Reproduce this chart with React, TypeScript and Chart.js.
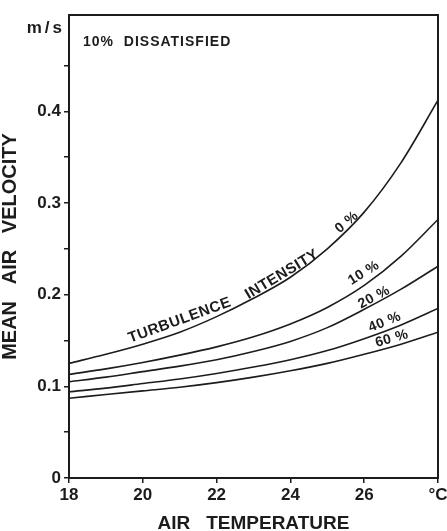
import React, { useEffect, useRef } from "react";
import { Chart, registerables } from "chart.js";

Chart.register(...registerables);

const temperatures = [18, 19, 20, 21, 22, 23, 24, 25, 26, 27, 28];
const ti0 = [0.125, 0.135, 0.146, 0.159, 0.176, 0.196, 0.219, 0.25, 0.29, 0.344, 0.412];
const ti10 = [0.113, 0.119, 0.126, 0.134, 0.143, 0.154, 0.168, 0.186, 0.21, 0.242, 0.282];
const ti20 = [0.105, 0.11, 0.116, 0.122, 0.129, 0.138, 0.149, 0.164, 0.184, 0.206, 0.231];
const ti40 = [0.094, 0.098, 0.103, 0.108, 0.114, 0.121, 0.129, 0.139, 0.152, 0.167, 0.185];
const ti60 = [0.087, 0.091, 0.095, 0.099, 0.104, 0.11, 0.117, 0.125, 0.135, 0.146, 0.159];

const xTickValues = [18, 20, 22, 24, 26, 28];
const yTickValues = [0, 0.05, 0.1, 0.15, 0.2, 0.25, 0.3, 0.35, 0.4, 0.45];

// curve labels: [text, temperature, velocity, angle in degrees]
const curveLabels: [string, number, number, number][] = [
  ["TURBULENCE", 21.0, 0.172, -20],
  ["INTENSITY", 23.77, 0.222, -31],
  ["0 %", 25.53, 0.279, -40],
  ["10 %", 25.99, 0.2236, -32],
  ["20 %", 26.27, 0.197, -28],
  ["40 %", 26.56, 0.17, -22],
  ["60 %", 26.75, 0.152, -16],
];

const INK = "#1c1c1c";
const FONT = "'Liberation Sans', Arial, sans-serif";

const series = [ti0, ti10, ti20, ti40, ti60];

const annotationPlugin = {
  id: "annotations",
  afterDatasetsDraw(chart: any) {
    const { ctx, chartArea, scales } = chart;
    ctx.save();
    ctx.strokeStyle = INK;
    ctx.lineWidth = 2;
    ctx.strokeRect(chartArea.left, chartArea.top, chartArea.right - chartArea.left, chartArea.bottom - chartArea.top);
    ctx.fillStyle = INK;
    ctx.font = `bold 14px ${FONT}`;
    ctx.textAlign = "left";
    ctx.textBaseline = "middle";
    (ctx as any).letterSpacing = "1px";
    ctx.fillText("10%  DISSATISFIED", scales.x.getPixelForValue(18.38), scales.y.getPixelForValue(0.475));
    ctx.font = `bold 17px ${FONT}`;
    (ctx as any).letterSpacing = "3px";
    ctx.textAlign = "right";
    ctx.fillText("m/s", chartArea.left - 4, scales.y.getPixelForValue(0.49));
    (ctx as any).letterSpacing = "0.5px";
    ctx.textAlign = "center";
    for (const [text, t, v, ang] of curveLabels) {
      const px = scales.x.getPixelForValue(t);
      const py = scales.y.getPixelForValue(v);
      ctx.save();
      ctx.translate(px, py);
      ctx.rotate((ang * Math.PI) / 180);
      ctx.font = text.includes("%") ? `bold 14px ${FONT}` : `bold 15px ${FONT}`;
      ctx.fillText(text, 0, 0);
      ctx.restore();
    }
    ctx.restore();
  },
};

export default function App() {
  const ref = useRef<HTMLCanvasElement | null>(null);
  useEffect(() => {
    if (!ref.current) return;
    const chart = new Chart(ref.current, {
      type: "line",
      data: {
        datasets: series.map((s) => ({
          data: temperatures.map((t, i) => ({ x: t, y: s[i] })),
          borderColor: INK,
          borderWidth: 1.6,
          pointRadius: 0,
          fill: false,
          cubicInterpolationMode: "monotone" as const,
        })),
      },
      options: {
        animation: false,
        responsive: false,
        events: [],
        layout: { padding: { top: 15, right: 9, left: 0, bottom: 0 } },
        plugins: { legend: { display: false }, tooltip: { enabled: false } },
        scales: {
          x: {
            type: "linear",
            min: 18,
            max: 28,
            afterBuildTicks: (s: any) => {
              s.ticks = xTickValues.map((v) => ({ value: v }));
            },
            afterFit: (s: any) => {
              s.height = 53;
              s.paddingLeft = 0;
              s.paddingRight = 0;
            },
            ticks: {
              autoSkip: false,
              maxRotation: 0,
              padding: 2,
              color: INK,
              font: { family: FONT, size: 17, weight: "bold" },
              callback: (v: any) => (Number(v) === 28 ? "°C" : String(v)),
            },
            grid: { drawOnChartArea: false, drawTicks: true, tickLength: 5, color: INK, lineWidth: 1.5 },
            border: { display: true, color: INK, width: 2 },
            title: {
              display: true,
              text: "AIR   TEMPERATURE",
              color: INK,
              font: { family: FONT, size: 19, weight: "bold", lineHeight: 1 },
              padding: { top: 0, bottom: -2 },
            },
          },
          y: {
            type: "linear",
            min: 0,
            max: 0.505,
            afterBuildTicks: (s: any) => {
              s.ticks = yTickValues.map((v) => ({ value: v }));
            },
            afterFit: (s: any) => {
              s.width = 69;
              s.paddingTop = 0;
              s.paddingBottom = 0;
            },
            ticks: {
              autoSkip: false,
              padding: 3,
              color: INK,
              font: { family: FONT, size: 17, weight: "bold" },
              callback: (v: any) => {
                const n = Math.round(Number(v) * 100);
                if (n % 10 !== 0) return "";
                return n === 0 ? "0" : (n / 100).toFixed(1);
              },
            },
            grid: { drawOnChartArea: false, drawTicks: true, tickLength: 5, color: INK, lineWidth: 1.5 },
            border: { display: true, color: INK, width: 2 },
            title: {
              display: true,
              text: "MEAN   AIR   VELOCITY",
              color: INK,
              font: { family: FONT, size: 20, weight: "bold", lineHeight: 1 },
              padding: { top: 0, bottom: 0 },
            },
          },
        },
      },
      plugins: [annotationPlugin],
    });
    return () => chart.destroy();
  }, []);
  return (
    <div style={{ position: "absolute", left: 0, top: 0, width: 447, height: 531, background: "#fff" }}>
      <canvas ref={ref} width={447} height={531} style={{ display: "block" }} />
    </div>
  );
}
